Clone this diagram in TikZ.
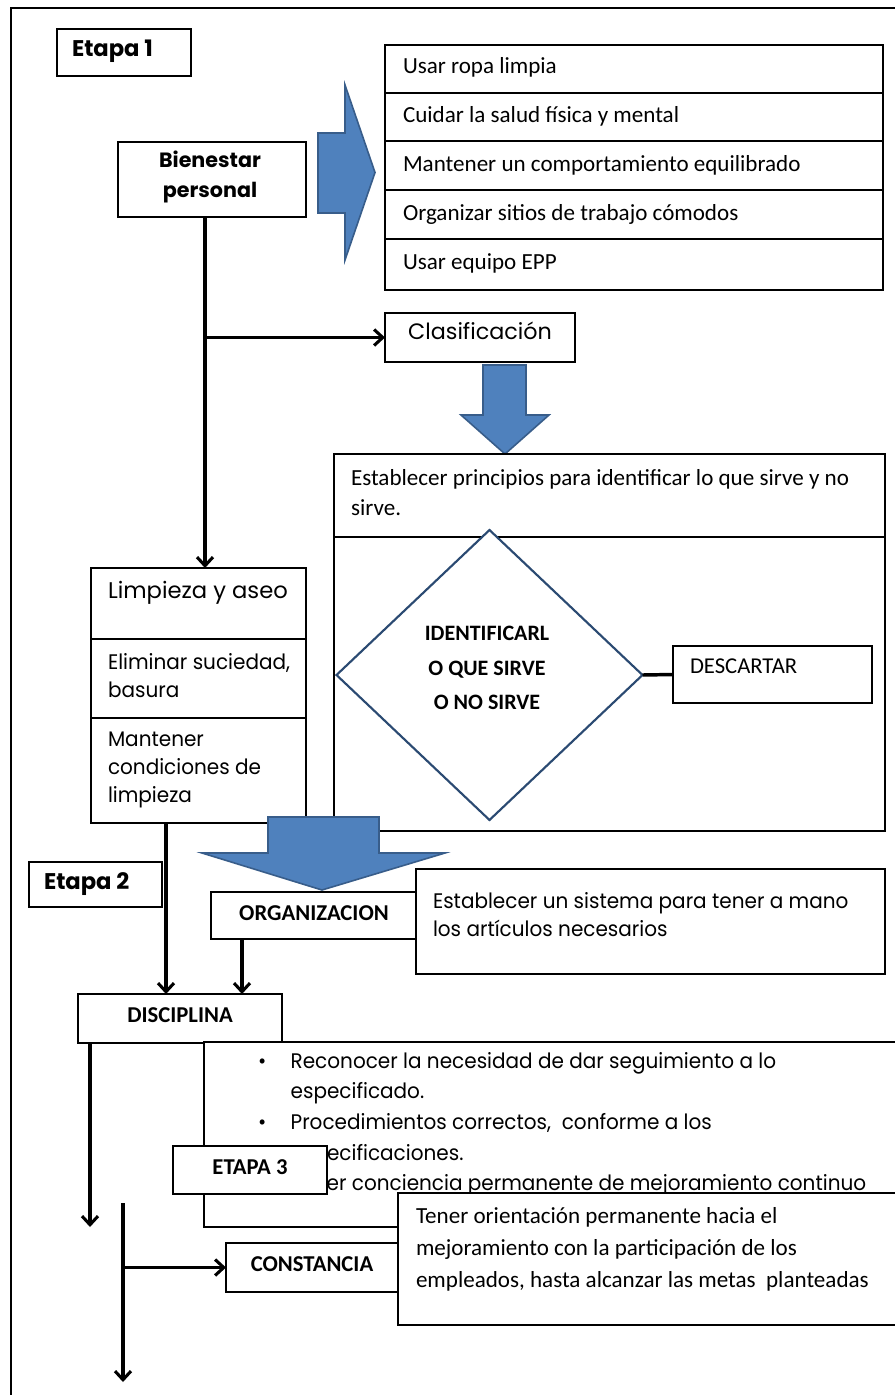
\documentclass[tikz,border=0pt]{standalone}
\usepackage{fontspec}
\setmainfont{Carlito}
\newfontfamily\gothic{Poppins}
\newfontfamily\gothicn[FakeStretch=0.95]{Poppins}
\usetikzlibrary{arrows.meta,fit,shapes.geometric,calc}
\definecolor{arrowblue}{HTML}{4F81BD}
\definecolor{arrowedge}{HTML}{385D8A}
\definecolor{diamondedge}{HTML}{2B4A72}
\tikzset{
  frameline/.style={draw=black, line width=1.5pt},
  boxr/.style={draw=black, line width=1.4pt, fill=white, inner sep=0pt, outer sep=0pt},
  lbl/.style={inner sep=0pt, outer sep=0pt, anchor=west, align=left},
  ctr/.style={inner sep=0pt, outer sep=0pt, align=center},
  conn/.style={line width=2.5pt, -{Straight Barb[length=6.5pt,width=12pt,line width=2.3pt]}},
  plainline/.style={line width=2.5pt},
  bigarrow/.style={fill=arrowblue, draw=arrowedge, line width=1.2pt, line join=miter},
  cal/.style={font=\fontsize{17.3}{22.5}\selectfont},
  calb/.style={font=\bfseries\fontsize{17}{22}\selectfont},
  goth/.style={font=\gothicn\fontsize{15.8}{21}\selectfont},
  gothb/.style={font=\gothic\bfseries\fontsize{17}{22.5}\selectfont},
}
\newcommand\rbox[5]{\node[boxr, fit={(#2,#3) (#4,#5)}] (#1) {};}
\begin{document}
\begin{tikzpicture}[x=0.75pt,y=-0.75pt]
\useasboundingbox (0,0) rectangle (894,1395);
\fill[white] (0,0) rectangle (894,1395);
% outer frame
\draw[frameline] (11,1410) -- (11,8) -- (910,8);

% Etapa 1
\rbox{et1}{57}{29}{191}{76}
\node[lbl, gothb] (tet1) at (72,51) {Etapa 1};

% list
\rbox{r1}{385}{45}{883}{93}
\rbox{r2}{385}{93}{883}{141}
\rbox{r3}{385}{141}{883}{190}
\rbox{r4}{385}{190}{883}{239}
\rbox{r5}{385}{239}{883}{290}
\node[lbl, cal] (tr1) at (403,67) {Usar ropa limpia};
\node[lbl, cal] (tr2) at (403,116) {Cuidar la salud física y mental};
\node[lbl, cal] (tr3) at (403,165) {Mantener un comportamiento equilibrado};
\node[lbl, cal] (tr4) at (403,214) {Organizar sitios de trabajo cómodos};
\node[lbl, cal] (tr5) at (403,263) {Usar equipo EPP};

% Bienestar
\rbox{bien}{118}{142}{306}{217}
\node[ctr, font=\gothic\bfseries\fontsize{15.5}{22.5}\selectfont] (tbien) at (210,177) {Bienestar\\personal};

% big right arrow
\draw[bigarrow] (318,133) -- (345,133) -- (345,85) -- (375,172.5) -- (345,260) -- (345,213) -- (318,213) -- cycle;

% Clasificacion
\rbox{clas}{385}{313}{575}{362}
\node[ctr, font=\gothic\fontsize{16.7}{18}\selectfont] (tclas) at (480,331) {Clasificación};
\draw[bigarrow] (483,365) -- (526,365) -- (526,415) -- (549,415) -- (505,454) -- (461,415) -- (483,415) -- cycle;

% Establecer principios
\rbox{est1}{334}{454}{885}{537}
\rbox{est2}{334}{537}{885}{831}
\node[lbl, cal] (test) at (351,493) {Establecer principios para identificar lo que sirve y no\\sirve.};
\node[draw=diamondedge, line width=1.6pt, fill=white, diamond, minimum width=229.5pt, minimum height=217.5pt, inner sep=0pt, outer sep=0pt] (diam) at (489.5,675) {};
\node[ctr, font=\bfseries\fontsize{16.5}{26}\selectfont] (tdiam) at (487,668) {IDENTIFICARL\\O QUE SIRVE\\O NO SIRVE};
\rbox{desc}{673}{646}{872}{703}
\node[lbl, font=\fontsize{17}{18}\selectfont] (tdesc) at (690,666) {DESCARTAR};
\draw[line width=2.6pt] (diam.east) -- (desc.west);

% Limpieza
\rbox{lim1}{91}{568}{306}{639}
\rbox{lim2}{91}{639}{306}{718}
\rbox{lim3}{91}{718}{306}{823}
\node[lbl, font=\gothic\fontsize{17}{18}\selectfont] (tlim1) at (108,593) {Limpieza y aseo};
\node[lbl, goth] (tlim2) at (108,676) {Eliminar suciedad,\\basura};
\node[lbl, goth] (tlim3) at (108,770) {Mantener\\condiciones de\\limpieza};

% connectors top
\coordinate (j1) at (205,337.5);
\draw[plainline] (bien.south -| j1) -- (j1);
\draw[conn] (j1) -- (j1 |- lim1.north);
\draw[conn] (j1) -- (clas.west);

% Etapa 2 / Organizacion
\rbox{et2}{29}{862}{162}{907}
\node[lbl, gothb] (tet2) at (44,884) {Etapa 2};
\rbox{sis}{416}{869}{885}{974}
\node[lbl, goth] (tsis) at (433,915) {Establecer un sistema para tener a mano\\los artículos necesarios};
\rbox{org}{211}{892}{416}{939}
\node[ctr, calb] (torg) at (314,913) {ORGANIZACION};

% big down arrow
\draw[bigarrow] (268,817) -- (379,817) -- (379,853) -- (445,853) -- (322,890) -- (202,853) -- (268,853) -- cycle;

% Disciplina
\rbox{disc}{78}{994}{282}{1043}
\node[ctr, calb] (tdisc) at (180,1015) {DISCIPLINA};
\coordinate (xl) at (166,0);
\coordinate (xo) at (242,0);
\draw[conn] (lim3.south -| xl) -- (xl |- disc.north);
\draw[conn] (org.south -| xo) -- (xo |- disc.north);
\coordinate (d1) at (90,1227);
\draw[conn] (disc.south -| d1) -- (d1);

% bullet box
\rbox{bul}{204}{1042}{910}{1227}
\node[lbl, font=\gothicn\fontsize{15.8}{23}\selectfont, anchor=north west] (tbul) at (258,1052)
 {\makebox[24.5pt][l]{\textbullet}Reconocer la necesidad de dar seguimiento a lo\\
  \hspace*{24.5pt}especificado.\\
  \makebox[24.5pt][l]{\textbullet}Procedimientos correctos,\ \ conforme a los\\
  \hspace*{24.5pt}especificaciones.\\
  \makebox[24.5pt][l]{\textbullet}Tener conciencia permanente de mejoramiento continuo};

% Etapa 3
\rbox{et3}{173}{1146}{327}{1194}
\node[ctr, calb] (tet3) at (250,1167) {ETAPA 3};

% Constancia + Tener
\rbox{ten}{398}{1193}{910}{1325}
\node[lbl, cal, font=\fontsize{17.3}{24}\selectfont] (tten) at (416,1249) {Tener orientación permanente hacia el\\mejoramiento con la participación de los\\empleados, hasta alcanzar las metas\ \ planteadas};
\rbox{cons}{226}{1243}{398}{1292}
\node[ctr, calb] (tcons) at (312,1264) {CONSTANCIA};

\coordinate (v1) at (123,1203);
\coordinate (v2) at (123,1382);
\draw[conn] (v1) -- (v2);
\draw[conn] (v1 |- cons.west) -- (cons.west);
\end{tikzpicture}
\end{document}
